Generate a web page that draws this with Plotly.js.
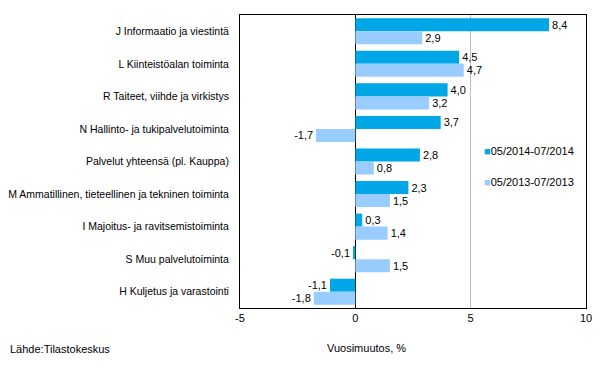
<!DOCTYPE html>
<html>
<head>
<meta charset="utf-8">
<script src="https://cdn.plot.ly/plotly-3.0.1.min.js"></script>
<style>html,body{margin:0;padding:0;background:#fff;}#chart{width:600px;height:373px;}</style>
</head>
<body>
<div id="chart"></div>
<script>
const categories = [
  "J Informaatio ja viestintä",
  "L Kiinteistöalan toiminta",
  "R Taiteet, viihde ja virkistys",
  "N Hallinto- ja tukipalvelutoiminta",
  "Palvelut yhteensä (pl. Kauppa)",
  "M Ammatillinen, tieteellinen ja tekninen toiminta",
  "I Majoitus- ja ravitsemistoiminta",
  "S Muu palvelutoiminta",
  "H Kuljetus ja varastointi"
];
const series2014 = [8.4, 4.5, 4.0, 3.7, 2.8, 2.3, 0.3, -0.1, -1.1];
const series2013 = [2.9, 4.7, 3.2, -1.7, 0.8, 1.5, 1.4, 1.5, -1.8];
const seriesNames = ["05/2014-07/2014", "05/2013-07/2013"];
const xTickVals = [-5, 0, 5, 10];
const colors = ["#00a6e6", "#99ccff"];

const fmt = v => v.toFixed(1).replace('.', ',');
const font = {family: "Liberation Sans, Arial, sans-serif", size: 11, color: "#000"};

const traces = [series2014, series2013].map((vals, i) => ({
  type: "bar",
  orientation: "h",
  name: seriesNames[i],
  y: categories,
  x: vals,
  text: vals.map(fmt),
  textposition: "outside",
  textfont: font,
  cliponaxis: false,
  marker: {color: colors[i]},
  hoverinfo: "skip"
}));

const layout = {
  width: 600, height: 373,
  margin: {l: 240, r: 14, t: 15, b: 65},
  paper_bgcolor: "#fff", plot_bgcolor: "#fff",
  font: font,
  barmode: "group",
  bargap: 0.2,
  bargroupgap: 0,
  showlegend: false,
  xaxis: {
    range: [-5, 10],
    tickvals: xTickVals,
    ticktext: xTickVals.map(String),
    showgrid: true, gridcolor: "#c0c0c0", gridwidth: 1,
    zeroline: true, zerolinecolor: "#000", zerolinewidth: 1,
    showline: true, linecolor: "#000", linewidth: 1, mirror: true,
    ticks: "", tickfont: font, fixedrange: true
  },
  yaxis: {
    autorange: "reversed",
    type: "category",
    showline: true, linecolor: "#000", linewidth: 1, mirror: true,
    ticks: "", ticklabelstandoff: 8, tickfont: {family: font.family, size: 10.5, color: "#000"},
    showgrid: false, zeroline: false
  },
  annotations: [
    {xref: "paper", yref: "paper", x: (366 - 240) / 346, y: -0.135, xanchor: "center", yanchor: "middle",
     text: "Vuosimuutos, %", showarrow: false, font: font},
    {xref: "paper", yref: "paper", x: -232 / 346, y: -0.14, xanchor: "left", yanchor: "middle",
     text: "Lähde:Tilastokeskus", showarrow: false, font: font},
    {xref: "paper", yref: "paper", x: (482 - 240) / 346, y: (308 - 151) / 293, xanchor: "left", yanchor: "middle",
     text: '<span style="color:' + colors[0] + '">■</span>' + seriesNames[0], showarrow: false, font: font},
    {xref: "paper", yref: "paper", x: (482 - 240) / 346, y: (308 - 182) / 293, xanchor: "left", yanchor: "middle",
     text: '<span style="color:' + colors[1] + '">■</span>' + seriesNames[1], showarrow: false, font: font}
  ]
};

Plotly.newPlot("chart", traces, layout, {displayModeBar: false, staticPlot: true});
</script>
</body>
</html>
